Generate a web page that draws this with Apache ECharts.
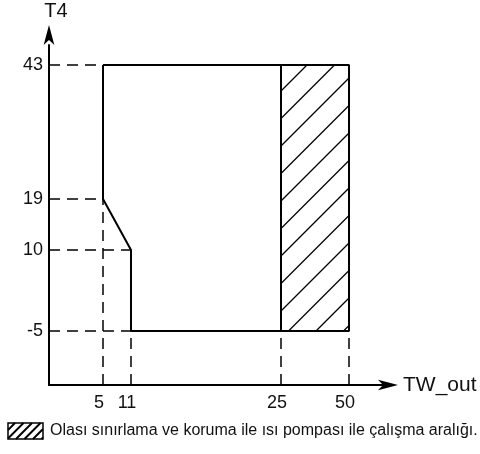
<!DOCTYPE html>
<html><head><meta charset="utf-8">
<script src="https://cdn.jsdelivr.net/npm/echarts@6/dist/echarts.min.js"></script>
<style>html,body{margin:0;padding:0;background:#fff}#c{width:480px;height:454px}</style>
</head><body><div id="c"></div>
<script>
// ---- data ----
const xName = 'TW_out';
const yName = 'T4';
const xTicks = [5, 11, 25, 50];          // TW_out tick values
const yTicks = [-5, 10, 19, 43];         // T4 tick values
const boundaryTW = [5, 50, 50, 11, 11, 5, 5];   // operating envelope outline
const boundaryT4 = [43, 43, -5, -5, 10, 19, 43];
const dividerTW = [25, 25];
const dividerT4 = [43, -5];
const zoneTW = [25, 50];                 // hatched zone
const zoneT4 = [-5, 43];
const hGuideTW = [11, 11, 5, 5];         // where each T4 guide meets the envelope
const vGuideT4 = [19, -5, -5, -5];       // where each TW guide meets the envelope
const legendText = 'Olası sınırlama ve koruma ile ısı pompası ile çalışma aralığı.';

// ---- schematic (non-proportional) axis layout ----
const xSlot = [54, 82, 232, 300];
const ySlot = [54, 135, 186, 320];
function pw(v, ticks, slots) {
  for (let i = 0; i < ticks.length - 1; i++) {
    if (v <= ticks[i + 1] || i === ticks.length - 2) {
      const t = (v - ticks[i]) / (ticks[i + 1] - ticks[i]);
      return slots[i] + t * (slots[i + 1] - slots[i]);
    }
  }
}
const sx = v => pw(v, xTicks, xSlot);
const sy = v => pw(v, yTicks, ySlot);
const xLab = {}; xTicks.forEach(v => xLab[Math.round(sx(v))] = String(v));
const yLab = {}; yTicks.forEach(v => yLab[Math.round(sy(v))] = String(v));

const FONT = 'Liberation Sans, Arial, sans-serif';
const INK = '#000';

const chart = echarts.init(document.getElementById('c'), null, {renderer: 'canvas'});

const guides = [];
yTicks.forEach((t, i) => guides.push({coords: [[0, sy(t)], [sx(hGuideTW[i]), sy(t)]]}));
xTicks.forEach((v, i) => guides.push({coords: [[sx(v), 0], [sx(v), sy(vGuideT4[i])]]}));

function hatchLines(x0, y0, x1, y1, first, step, lw) {
  const out = [];
  for (let c = x0 + y0 + first; c < x1 + y1; c += step) {
    const ya = Math.max(y0, c - x1), xa = c - ya;
    const yb = Math.min(y1, c - x0), xb = c - yb;
    out.push({type: 'line', shape: {x1: xa, y1: ya, x2: xb, y2: yb},
      style: {stroke: INK, lineWidth: lw}, silent: true});
  }
  return out;
}

// legend box
const LB = {x: 8, y: 423, w: 35, h: 16};
const legendGraphic = [
  {type: 'rect', shape: {x: LB.x, y: LB.y, width: LB.w, height: LB.h},
    style: {fill: '#fff', stroke: INK, lineWidth: 1.5}},
  {type: 'group', children: hatchLines(LB.x, LB.y, LB.x + LB.w, LB.y + LB.h, 7, 8.5, 2)},
  {type: 'text', x: 50, y: LB.y + LB.h / 2,
    style: {text: legendText, font: '16px ' + FONT, fill: '#111', verticalAlign: 'middle', align: 'left'}}
];

chart.setOption({
  animation: false,
  backgroundColor: '#fff',
  grid: {left: 49, top: 45, width: 339, height: 340, containLabel: false, outerBoundsMode: 'none'},
  xAxis: {
    type: 'value', min: 0, max: 339,
    name: xName, nameLocation: 'end', nameGap: 15,
    nameTextStyle: {fontSize: 21, fontFamily: FONT, color: '#111'},
    axisLine: {show: true, onZero: false, symbol: ['none', 'arrow'], symbolSize: [8, 20],
      symbolOffset: [0, 10], lineStyle: {color: INK, width: 2}},
    axisTick: {show: false},
    splitLine: {show: false},
    axisLabel: {customValues: xTicks.map(sx), formatter: v => xLab[Math.round(v)] || '',
      fontSize: 18, fontFamily: FONT, color: '#111', margin: 9, padding: [0, 8, 0, 0]}
  },
  yAxis: {
    type: 'value', min: 0, max: 340,
    name: yName, nameLocation: 'end', nameGap: 24,
    nameTextStyle: {fontSize: 20, fontFamily: FONT, color: '#111', align: 'center', padding: [0, 0, 0, 14]},
    axisLine: {show: true, onZero: false, symbol: ['none', 'arrow'], symbolSize: [8, 20],
      symbolOffset: [0, 20], lineStyle: {color: INK, width: 2}},
    axisTick: {show: false},
    splitLine: {show: false},
    axisLabel: {customValues: yTicks.map(sy), formatter: v => yLab[Math.round(v)] || '',
      fontSize: 18, fontFamily: FONT, color: '#111', margin: 6}
  },
  graphic: legendGraphic,
  series: [
    {
      type: 'lines', coordinateSystem: 'cartesian2d', polyline: false, silent: true,
      lineStyle: {color: INK, width: 1.5, type: [11, 7], dashOffset: 0, opacity: 1},
      data: guides, z: 2
    },
    {
      type: 'custom', silent: true, z: 3,
      encode: {x: [0, 2], y: [1, 3]},
      data: [[sx(zoneTW[0]), sy(zoneT4[1]), sx(zoneTW[1]), sy(zoneT4[0])]],
      renderItem: (params, api) => {
        const p0 = api.coord([api.value(0), api.value(1)]);
        const p1 = api.coord([api.value(2), api.value(3)]);
        return {type: 'group', children: hatchLines(p0[0], p0[1], p1[0], p1[1], 26, 27.5, 1.3)};
      }
    },
    {
      type: 'line', silent: true, symbol: 'none', z: 5,
      lineStyle: {color: INK, width: 2},
      data: boundaryTW.map((v, i) => [sx(v), sy(boundaryT4[i])])
    },
    {
      type: 'line', silent: true, symbol: 'none', z: 5,
      lineStyle: {color: INK, width: 2},
      data: dividerTW.map((v, i) => [sx(v), sy(dividerT4[i])])
    }
  ]
});
</script>
</body></html>
